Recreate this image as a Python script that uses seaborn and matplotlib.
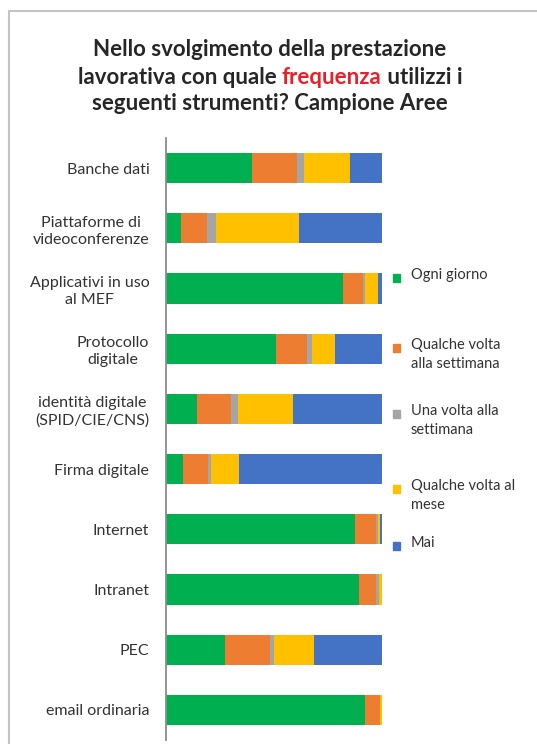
import numpy as np
import pandas as pd
import seaborn as sns
import matplotlib.pyplot as plt
from matplotlib.patches import Rectangle


# -----------------------------
# DATA (percent of respondents)
# -----------------------------
categories = [
    "Banche dati",
    "Piattaforme di\nvideoconferenze",
    "Applicativi in uso\nal MEF",
    "Protocollo\ndigitale",
    "identità digitale\n(SPID/CIE/CNS)",
    "Firma digitale",
    "Internet",
    "Intranet",
    "PEC",
    "email ordinaria",
]
ogni_giorno = [40.0, 6.8, 81.9, 50.8, 14.2, 7.7, 87.3, 89.2, 27.4, 92.3]
qualche_settimana = [20.6, 12.1, 9.3, 14.4, 15.8, 11.9, 10.1, 8.2, 20.9, 7.0]
una_settimana = [3.1, 4.3, 1.1, 2.3, 3.5, 1.2, 0.6, 1.1, 1.9, 0.0]
qualche_mese = [21.3, 38.5, 5.7, 10.8, 25.2, 13.1, 0.9, 1.5, 18.2, 0.7]
mai = [15.0, 38.3, 2.0, 21.7, 41.3, 66.1, 1.1, 0.0, 31.6, 0.0]

series_names = [
    "Ogni giorno",
    "Qualche volta\nalla settimana",
    "Una volta alla\nsettimana",
    "Qualche volta al\nmese",
    "Mai",
]
series_colors = ["#00B050", "#ED7D31", "#A5A5A5", "#FFC000", "#4472C4"]

# -----------------------------
# FIGURE
# -----------------------------
sns.set_style("white")
plt.rcParams["font.family"] = ["Lato", "DejaVu Sans"]

fig = plt.figure(figsize=(5.37, 7.44), dpi=100)
ax = fig.add_axes([166 / 537, 4 / 744, 216 / 537, 602 / 744])

df = pd.DataFrame({
    "Strumento": categories,
    series_names[0]: ogni_giorno,
    series_names[1]: qualche_settimana,
    series_names[2]: una_settimana,
    series_names[3]: qualche_mese,
    series_names[4]: mai,
})
cum = df[series_names].cumsum(axis=1)

# stacked bars: draw cumulative totals from the outermost segment inward
for name, color in reversed(list(zip(series_names, series_colors))):
    sns.barplot(x=cum[name], y=df["Strumento"], orient="h", color=color,
                width=0.5, ax=ax, saturation=1, edgecolor="none")

ax.set_xlim(0, 100)
ax.set_ylim(len(categories) - 0.5, -0.5)
ax.set_xlabel("")
ax.set_ylabel("")
ax.set_xticks([])
for side in ["top", "right", "bottom"]:
    ax.spines[side].set_visible(False)
ax.spines["left"].set_color("#8c8c8c")
ax.spines["left"].set_linewidth(1.3)
ax.tick_params(axis="y", length=0, pad=12, labelsize=11.5, labelcolor="#333333")
for lab in ax.get_yticklabels():
    lab.set_multialignment("center")
    lab.set_linespacing(1.3)

# -----------------------------
# TITLE (with red keyword)
# -----------------------------
title_kw = dict(fontsize=16, fontweight="bold", color="#262626", va="center")
fig.text(0.503, 1 - 50 / 744, "Nello svolgimento della prestazione",
         ha="center", **title_kw)
fig.text(0.503, 1 - 103 / 744, "seguenti strumenti? Campione Aree",
         ha="center", **title_kw)

parts = [("lavorativa con quale ", "#262626"), ("frequenza", "#E8202A"),
         (" utilizzi i", "#262626")]
renderer = fig.canvas.get_renderer()
texts = []
for s, c in parts:
    t = fig.text(0, 1 - 77 / 744, s, ha="left",
                 **{**title_kw, "color": c})
    texts.append(t)
widths = [t.get_window_extent(renderer).width / fig.bbox.width for t in texts]
x0 = 0.503 - sum(widths) / 2
for t, w in zip(texts, widths):
    t.set_x(x0)
    x0 += w

# -----------------------------
# LEGEND
# -----------------------------
legend_y = [277, 347, 413, 488, 545]
for name, color, y in zip(series_names, series_colors, legend_y):
    fig.patches.append(Rectangle((393 / 537, 1 - (y + 5) / 744), 7 / 537, 8 / 744,
                                 transform=fig.transFigure, color=color))
    fig.text(411 / 537, 1 - (y - 9) / 744, name, ha="left", va="top",
             fontsize=10.5, color="#333333", linespacing=1.45)

# outer chart frame
fig.patches.append(Rectangle((9 / 537, -0.02), 1.0, 1 - 11 / 744 + 0.02,
                             transform=fig.transFigure, fill=False,
                             edgecolor="#c4c4c4", linewidth=1.5))

fig.savefig("out.png", dpi=100)
